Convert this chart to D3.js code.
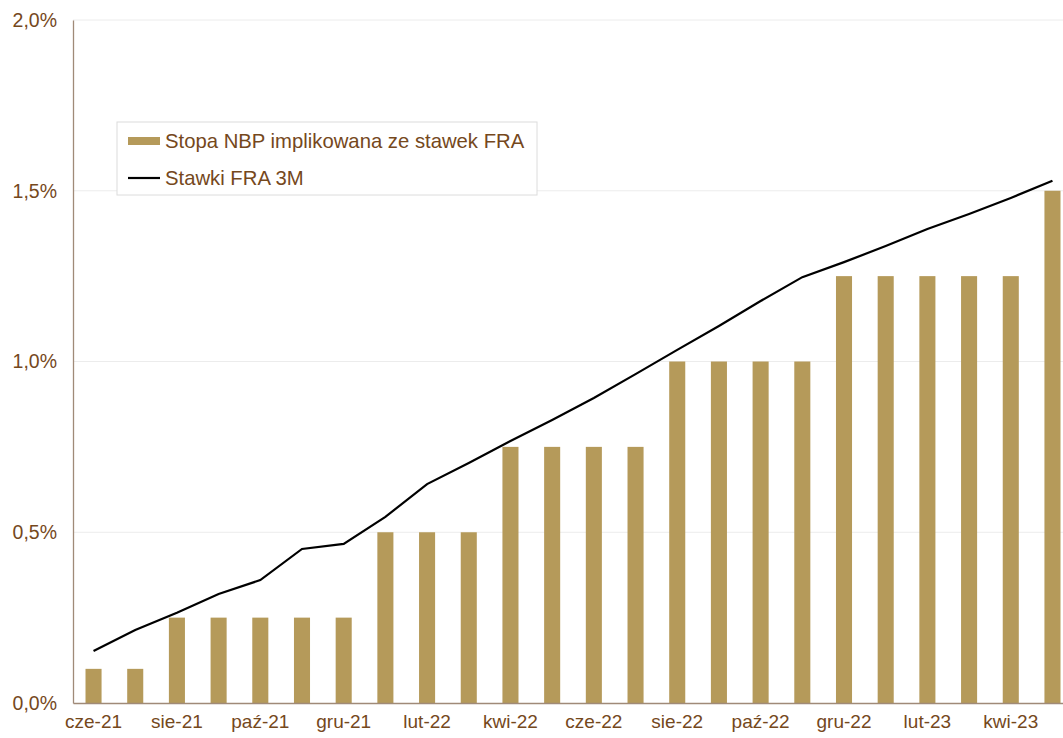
<!DOCTYPE html>
<html>
<head>
<meta charset="utf-8">
<script src="https://cdn.jsdelivr.net/npm/d3@7"></script>
<style>
  body { margin: 0; background: #fff; }
  svg { display: block; font-family: Arial, "Liberation Sans", sans-serif; }
</style>
</head>
<body>
<svg id="chart" width="1063" height="738"></svg>
<script>
// months (cze-21 .. maj-23)
var months = ["cze-21","lip-21","sie-21","wrz-21","paź-21","lis-21","gru-21","sty-22",
  "lut-22","mar-22","kwi-22","maj-22","cze-22","lip-22","sie-22","wrz-22",
  "paź-22","lis-22","gru-22","sty-23","lut-23","mar-23","kwi-23","maj-23"];

// NBP rate implied by FRA (bars)
var nbpRate = [0.10,0.10,0.25,0.25,0.25,0.25,0.25,0.50,0.50,0.50,0.75,0.75,
  0.75,0.75,1.00,1.00,1.00,1.00,1.25,1.25,1.25,1.25,1.25,1.50];

// FRA 3M rates (line)
var fra3m = [0.152,0.214,0.264,0.319,0.360,0.451,0.466,0.545,0.641,0.703,0.767,0.829,
  0.893,0.963,1.034,1.104,1.177,1.247,1.291,1.338,1.388,1.432,1.479,1.529];

var yTicks = [0, 0.5, 1.0, 1.5, 2.0];

var textColor = "#75481c";
var barColor = "#b59a5a";

var svg = d3.select("#chart");
var mLeft = 73, mRight = 1073, mTop = 20, mBottom = 703;

var x = d3.scaleBand().domain(months).range([mLeft, mRight]).paddingInner(0.615).paddingOuter(0.3);
var y = d3.scaleLinear().domain([0, 2]).range([mBottom, mTop]);

// grid
svg.append("g").selectAll("line")
  .data(yTicks.slice(1))
  .enter().append("line")
  .attr("x1", mLeft).attr("x2", mRight)
  .attr("y1", function(d) { return y(d); })
  .attr("y2", function(d) { return y(d); })
  .attr("stroke", "#ececec").attr("stroke-width", 1);

// bars
svg.append("g").selectAll("rect")
  .data(nbpRate)
  .enter().append("rect")
  .attr("x", function(d, i) { return x(months[i]); })
  .attr("y", function(d) { return y(d); })
  .attr("width", x.bandwidth())
  .attr("height", function(d) { return mBottom - y(d); })
  .attr("fill", barColor);

// line
var line = d3.line()
  .x(function(d, i) { return x(months[i]) + x.bandwidth() / 2; })
  .y(function(d) { return y(d); });

svg.append("path")
  .datum(fra3m)
  .attr("d", line)
  .attr("fill", "none")
  .attr("stroke", "#000")
  .attr("stroke-width", 2.2);

// axes
var yAxis = d3.axisLeft(y).tickValues(yTicks).tickSize(0).tickPadding(16)
  .tickFormat(function(d) { return d.toFixed(1).replace(".", ",") + "%"; });
var gy = svg.append("g").attr("transform", "translate(" + mLeft + ",0)").call(yAxis);
gy.select(".domain").attr("stroke", "#a08a78").attr("stroke-width", 1.3);
gy.selectAll("text").attr("fill", textColor).style("font-size", "19.5px");

var xAxis = d3.axisBottom(x).tickSize(0).tickPadding(12)
  .tickValues(months.filter(function(d, i) { return i % 2 === 0; }));
var gx = svg.append("g").attr("transform", "translate(0," + mBottom + ")").call(xAxis);
gx.select(".domain").attr("stroke", "#a08a78").attr("stroke-width", 1.3);
gx.selectAll("text").attr("fill", textColor).style("font-size", "19px");

// legend
var lg = svg.append("g").attr("transform", "translate(117,122)");
lg.append("rect").attr("width", 420).attr("height", 73)
  .attr("fill", "#fff").attr("stroke", "#dcdcdc").attr("stroke-width", 1);
lg.append("rect").attr("x", 11).attr("y", 15).attr("width", 32).attr("height", 8).attr("fill", barColor);
lg.append("text").attr("x", 48).attr("y", 26).attr("fill", textColor).style("font-size", "20.3px")
  .text("Stopa NBP implikowana ze stawek FRA");
lg.append("line").attr("x1", 11).attr("x2", 43).attr("y1", 56).attr("y2", 56)
  .attr("stroke", "#000").attr("stroke-width", 2.2);
lg.append("text").attr("x", 48).attr("y", 63).attr("fill", textColor).style("font-size", "20.3px")
  .text("Stawki FRA 3M");
</script>
</body>
</html>
